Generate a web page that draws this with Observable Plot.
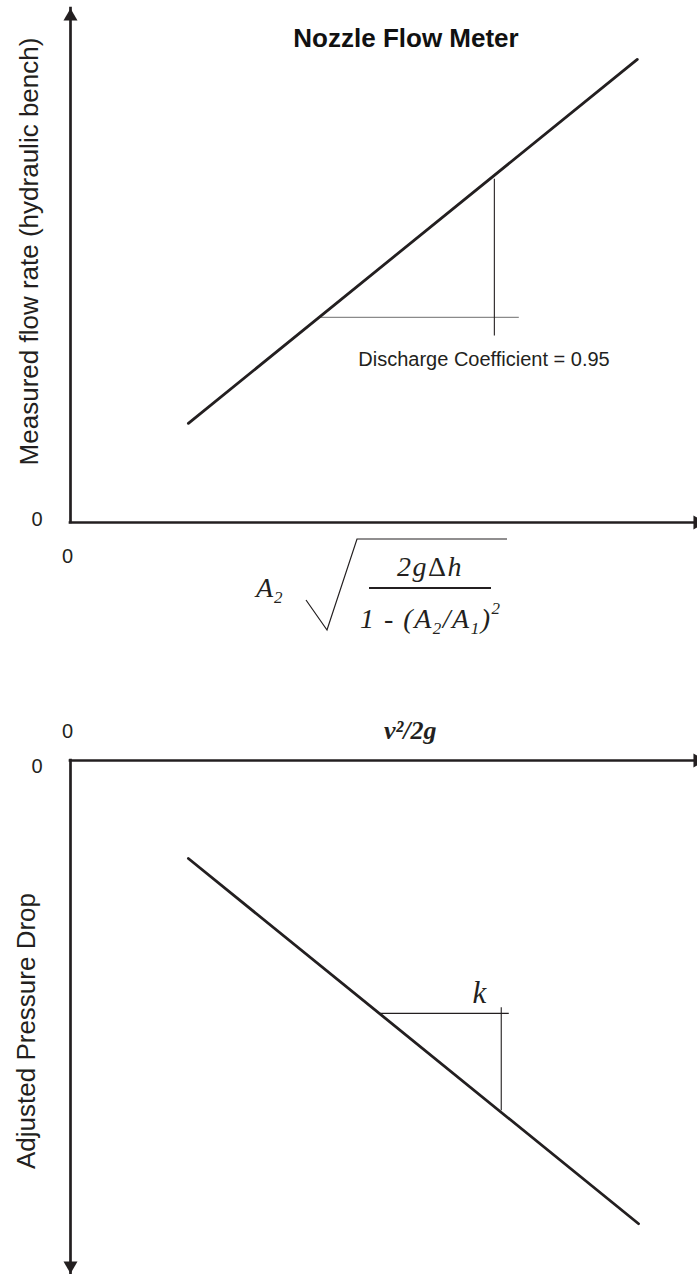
<!DOCTYPE html>
<html>
<head>
<meta charset="utf-8">
<script src="https://cdn.jsdelivr.net/npm/d3@7"></script>
<script src="https://cdn.jsdelivr.net/npm/@observablehq/plot@0.6"></script>
<style>
  html, body { margin: 0; padding: 0; background: #fff; }
  body { width: 697px; height: 1274px; overflow: hidden; position: relative; }
  #top, #bottom { position: absolute; left: 0; }
  #top { top: 0; }
  #bottom { top: 660px; }
  svg { display: block; }
</style>
</head>
<body>
<div id="top"></div>
<div id="bottom"></div>
<script>
// ---------- data (schematic units, 0..100 on each axis) ----------
const xTicks = [0];
const yTicks = [0];

// Top chart: nozzle flow meter calibration line
const flowX = [18.8, 90.4];
const flowY = [19.3, 90.1];
// slope triangle (run / rise)
const cdRunX = [39.7, 71.5];
const cdRunY = [39.9, 39.9];
const cdRiseX = [67.6, 67.6];
const cdRiseY = [36.4, 66.9];

// Bottom chart: adjusted pressure drop vs v^2/2g
const dropX = [18.8, 90.6];
const dropY = [19.1, 90.3];
const kRunX = [49.4, 69.9];
const kRunY = [49.3, 49.3];
const kRiseX = [68.7, 68.7];
const kRiseY = [48.1, 68.2];

// text
const topTitle = ["Nozzle Flow Meter"];
const topYLabel = ["Measured flow rate (hydraulic bench)"];
const cdLabel = ["Discharge Coefficient = 0.95"];
const bottomXLabel = ["v\u00B2/2g"];
const bottomYLabel = ["Adjusted Pressure Drop"];
const kLabel = ["k"];

// ---------- helpers ----------
const ink = "#231f20";
const sans = "Liberation Sans, Arial, Helvetica, sans-serif";
const serif = "Liberation Serif, Times New Roman, serif";
const pts = (xs, ys) => xs.map((x, i) => ({x, y: ys[i]}));
const seg = (xs, ys) => [{x1: xs[0], y1: ys[0], x2: xs[1], y2: ys[1]}];

// ---------- top chart ----------
const topChart = Plot.plot({
  width: 697,
  height: 660,
  marginLeft: 70,
  marginRight: 0,
  marginTop: 8,
  marginBottom: 138,
  x: {domain: [0, 100], axis: null},
  y: {domain: [0, 100], axis: null},
  style: {background: "white", color: ink, fontFamily: sans, overflow: "visible"},
  marks: [
    Plot.axisY({ticks: yTicks, tickSize: 0, tickPadding: 28, label: null, fontSize: 20, dy: -3, tickFormat: d => String(d)}),
    Plot.axisX({ticks: xTicks, tickSize: 0, tickPadding: 26, label: null, fontSize: 20, dx: -3, tickFormat: d => String(d)}),
    Plot.ruleY([0], {stroke: ink, strokeWidth: 2.7, strokeLinecap: "square"}),
    Plot.ruleX([0], {stroke: ink, strokeWidth: 2.7, strokeLinecap: "square"}),
    Plot.dot([{x: 0, y: 100}], {x: "x", y: "y", symbol: "triangle", r: 5.2, fill: ink, stroke: null, dy: 8}),
    Plot.dot([{x: 100, y: 0}], {x: "x", y: "y", symbol: "triangle", r: 5.2, fill: ink, stroke: null, rotate: 90}),
    Plot.link(seg(cdRunX, cdRunY), {x1: "x1", y1: "y1", x2: "x2", y2: "y2", stroke: "#8a8a8a", strokeWidth: 1.3}),
    Plot.link(seg(cdRiseX, cdRiseY), {x1: "x1", y1: "y1", x2: "x2", y2: "y2", stroke: ink, strokeWidth: 1.1}),
    Plot.line(pts(flowX, flowY), {x: "x", y: "y", stroke: ink, strokeWidth: 2.8}),
    Plot.text(cdLabel, {x: 45.9, y: 30.5, text: d => d, textAnchor: "start", lineAnchor: "bottom", fontSize: 20, fill: ink}),
    Plot.text(topTitle, {frameAnchor: "top", text: d => d, textAnchor: "middle", dx: 22, dy: 20, fontSize: 26, fontWeight: "bold", fill: "#111"}),
    Plot.text(topYLabel, {frameAnchor: "left", text: d => d, textAnchor: "middle", rotate: -90, dx: -41, dy: -14, fontSize: 26, fill: ink})
  ]
});
document.getElementById("top").appendChild(topChart);

// formula label for the x axis of the top chart: A2 sqrt( 2g\u0394h / (1 - (A2/A1)^2) )
{
  const svg = d3.select(topChart);
  const g = svg.append("g")
    .attr("fill", ink)
    .attr("text-anchor", "start")
    .attr("font-family", serif)
    .attr("font-style", "italic");
  const a = g.append("text").attr("x", 256).attr("y", 597).attr("font-size", 28);
  a.append("tspan").text("A");
  a.append("tspan").attr("font-size", 17).attr("dy", 6).attr("dx", 1).text("2");
  g.append("polyline")
    .attr("points", "306,600 327,630 357,539 507,539")
    .attr("fill", "none").attr("stroke", ink).attr("stroke-width", 1.2);
  const num = g.append("text").attr("x", 430).attr("y", 576).attr("font-size", 28)
    .attr("text-anchor", "middle").attr("letter-spacing", 1.5);
  num.append("tspan").text("2g");
  num.append("tspan").attr("font-style", "normal").text("\u0394");
  num.append("tspan").text("h");
  g.append("line").attr("x1", 369).attr("x2", 491).attr("y1", 588).attr("y2", 588)
    .attr("stroke", ink).attr("stroke-width", 2.2);
  const den = g.append("text").attr("x", 360).attr("y", 628).attr("font-size", 28).attr("letter-spacing", 1.5);
  den.append("tspan").text("1 - (A");
  den.append("tspan").attr("font-size", 17).attr("dy", 6).text("2");
  den.append("tspan").attr("dy", -6).text("/A");
  den.append("tspan").attr("font-size", 17).attr("dy", 6).text("1");
  den.append("tspan").attr("dy", -6).text(")");
  den.append("tspan").attr("font-size", 17).attr("dy", -14).text("2");
}

// ---------- bottom chart ----------
const bottomChart = Plot.plot({
  width: 697,
  height: 614,
  marginLeft: 70,
  marginRight: 0,
  marginTop: 100,
  marginBottom: 1,
  x: {domain: [0, 100], axis: null},
  y: {domain: [0, 100], reverse: true, axis: null},
  style: {background: "white", color: ink, fontFamily: sans, overflow: "visible"},
  marks: [
    Plot.axisY({ticks: yTicks, tickSize: 0, tickPadding: 28, label: null, fontSize: 20, dy: 6, tickFormat: d => String(d)}),
    Plot.axisX({anchor: "top", ticks: xTicks, tickSize: 0, tickPadding: 23, label: null, fontSize: 20, dx: -3, tickFormat: d => String(d)}),
    Plot.ruleY([0], {stroke: ink, strokeWidth: 2.7, strokeLinecap: "square"}),
    Plot.ruleX([0], {stroke: ink, strokeWidth: 2.7, strokeLinecap: "square"}),
    Plot.dot([{x: 0, y: 100}], {x: "x", y: "y", symbol: "triangle", r: 5.2, fill: ink, stroke: null, rotate: 180, dy: -8}),
    Plot.dot([{x: 100, y: 0}], {x: "x", y: "y", symbol: "triangle", r: 5.2, fill: ink, stroke: null, rotate: 90}),
    Plot.link(seg(kRunX, kRunY), {x1: "x1", y1: "y1", x2: "x2", y2: "y2", stroke: ink, strokeWidth: 1.1}),
    Plot.link(seg(kRiseX, kRiseY), {x1: "x1", y1: "y1", x2: "x2", y2: "y2", stroke: ink, strokeWidth: 1.1}),
    Plot.line(pts(dropX, dropY), {x: "x", y: "y", stroke: ink, strokeWidth: 2.8}),
    Plot.text(kLabel, {x: 65.2, y: 47.2, text: d => d, lineAnchor: "bottom", fontSize: 31, fontFamily: serif, fontStyle: "italic", fill: ink}),
    Plot.text(bottomXLabel, {frameAnchor: "top", text: d => d, textAnchor: "start", lineAnchor: "bottom", dy: -22, fontSize: 26, fontFamily: serif, fontStyle: "italic", fontWeight: "bold", fill: ink}),
    Plot.text(bottomYLabel, {frameAnchor: "left", text: d => d, textAnchor: "middle", rotate: -90, dx: -44, dy: 14, fontSize: 26, fill: ink})
  ]
});
document.getElementById("bottom").appendChild(bottomChart);
</script>
</body>
</html>
